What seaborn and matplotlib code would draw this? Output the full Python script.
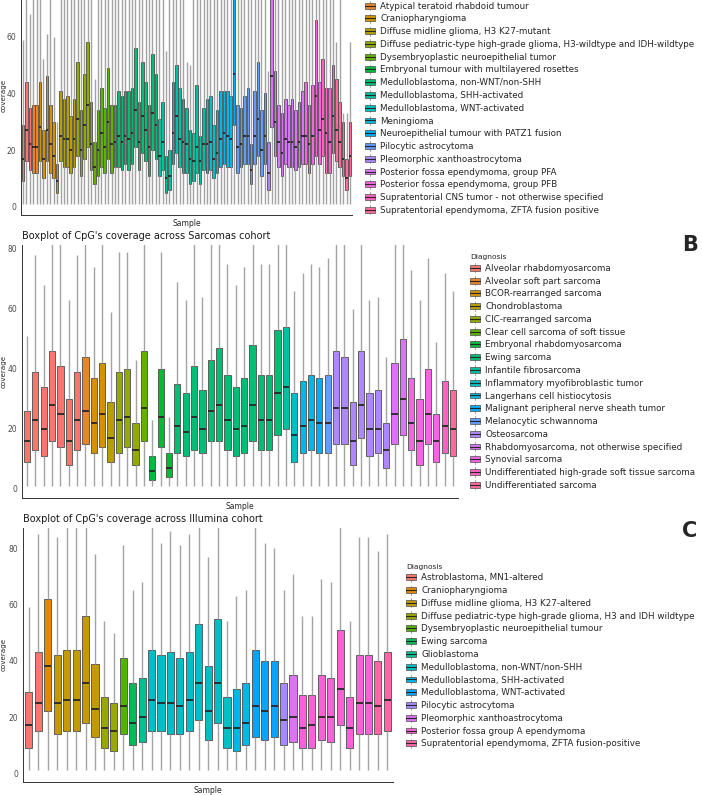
import numpy as np
import pandas as pd
import matplotlib
matplotlib.use("Agg")
import matplotlib.pyplot as plt
import matplotlib.transforms as mtransforms
import seaborn as sns
from matplotlib.patches import Rectangle
from matplotlib.lines import Line2D
from matplotlib.legend_handler import HandlerPatch

# ---------------- panel A (top, cropped) : CNS cohort ----------------
A_DIAG = [
    "Astroblastoma, MN1-altered",
    "Atypical teratoid rhabdoid tumour",
    "Craniopharyngioma",
    "Diffuse midline glioma, H3 K27-mutant",
    "Diffuse pediatric-type high-grade glioma, H3-wildtype and IDH-wildtype",
    "Dysembryoplastic neuroepithelial tumor",
    "Embryonal tumour with multilayered rosettes",
    "Medulloblastoma, non-WNT/non-SHH",
    "Medulloblastoma, SHH-activated",
    "Medulloblastoma, WNT-activated",
    "Meningioma",
    "Neuroepithelial tumour with PATZ1 fusion",
    "Pilocytic astrocytoma",
    "Pleomorphic xanthoastrocytoma",
    "Posterior fossa ependymoma, group PFA",
    "Posterior fossa ependymoma, group PFB",
    "Supratentorial CNS tumor - not otherwise specified",
    "Supratentorial ependymoma, ZFTA fusion positive",
]
A_COUNTS = [3, 2, 6, 5, 5, 6, 1, 12, 14, 4, 4, 1, 9, 1, 10, 5, 4, 5]
A_Q1 = [9, 16, 13, 12, 12, 16, 10, 16, 12, 10, 5, 16, 14, 14, 12, 14, 18, 11, 17, 21,
        13, 8, 11, 14, 12, 17, 12, 14, 14, 13, 15, 13, 15, 21, 13, 19, 16, 11, 20, 17,
        11, 13, 5, 6, 15, 19, 14, 12, 12, 8, 9, 12, 8, 13, 12, 13, 10, 12, 14, 15,
        14, 14, 29, 12, 14, 15, 15, 8, 15, 18, 11, 15, 6, 28, 18, 14, 11, 15, 14, 14,
        13, 14, 15, 15, 12, 15, 18, 15, 18, 12, 12, 19, 16, 14, 11, 6, 11]
A_MED = [17, 27, 22, 21, 21, 28, 17, 27, 22, 18, 9, 25, 24, 24, 20, 24, 31, 20, 29, 36,
         22, 14, 20, 26, 21, 30, 22, 23, 25, 23, 25, 24, 26, 34, 23, 32, 27, 21, 33, 29,
         18, 23, 10, 11, 26, 32, 24, 23, 22, 17, 16, 21, 16, 22, 22, 23, 17, 19, 24, 26,
         25, 24, 47, 21, 22, 25, 25, 13, 25, 31, 20, 25, 12, 46, 30, 23, 19, 24, 23, 23,
         21, 23, 25, 25, 22, 25, 39, 27, 31, 26, 23, 32, 27, 23, 17, 10, 18]
A_Q3 = [29, 44, 35, 36, 36, 44, 27, 46, 36, 30, 15, 41, 38, 39, 32, 38, 51, 34, 47, 58,
        37, 23, 34, 42, 35, 49, 36, 36, 41, 39, 41, 41, 42, 56, 37, 51, 44, 36, 54, 47,
        31, 37, 18, 20, 44, 50, 42, 38, 35, 27, 26, 43, 25, 35, 38, 39, 29, 34, 41, 41,
        41, 39, 80, 36, 35, 39, 42, 22, 41, 51, 34, 40, 23, 80, 48, 36, 33, 38, 36, 38,
        34, 37, 41, 44, 36, 43, 66, 44, 52, 42, 42, 50, 45, 37, 30, 17, 30]
A_HI = [59, 90, 68, 90, 90, 90, 52, 61, 90, 60, 30, 90, 90, 90, 90, 90, 90, 90, 90, 90,
        90, 45, 90, 90, 90, 90, 90, 90, 90, 90, 90, 90, 90, 90, 90, 90, 90, 90, 90, 90,
        90, 90, 55, 90, 90, 90, 90, 90, 51, 50, 90, 90, 90, 90, 90, 90, 90, 90, 90, 90,
        90, 90, 90, 90, 90, 90, 90, 90, 90, 90, 90, 90, 48, 90, 90, 90, 90, 90, 90, 90,
        90, 90, 90, 90, 90, 90, 90, 90, 90, 90, 90, 90, 58, 90, 33, 33, 58]
A_MIN = 1

# ---------------- panel B : Sarcomas cohort ----------------
B_DIAG = [
    "Alveolar rhabdomyosarcoma",
    "Alveolar soft part sarcoma",
    "BCOR-rearranged sarcoma",
    "Chondroblastoma",
    "CIC-rearranged sarcoma",
    "Clear cell sarcoma of soft tissue",
    "Embryonal rhabdomyosarcoma",
    "Ewing sarcoma",
    "Infantile fibrosarcoma",
    "Inflammatory myofibroblastic tumor",
    "Langerhans cell histiocytosis",
    "Malignant peripheral nerve sheath tumor",
    "Melanocytic schwannoma",
    "Osteosarcoma",
    "Rhabdomyosarcoma, not otherwise specified",
    "Synovial sarcoma",
    "Undifferentiated high-grade soft tissue sarcoma",
    "Undifferentiated sarcoma",
]
B_COUNTS = [7, 1, 2, 1, 3, 1, 3, 13, 1, 1, 2, 1, 1, 7, 2, 4, 1, 1]
B_Q1 = [9, 13, 11, 16, 14, 8, 13, 15, 12, 14, 9, 12, 14, 8, 16, 3, 14, 4, 12, 11,
        13, 12, 16, 16, 13, 11, 12, 16, 13, 13, 18, 20, 9, 12, 13, 12, 12, 15, 15, 8,
        17, 11, 12, 7, 15, 18, 13, 8, 15, 9, 12, 11]
B_MED = [16, 23, 20, 28, 25, 16, 23, 26, 22, 25, 17, 23, 24, 13, 27, 6, 24, 7, 21, 19,
         24, 20, 26, 28, 23, 20, 21, 28, 23, 23, 32, 34, 18, 21, 23, 22, 22, 27, 27, 16,
         28, 20, 20, 13, 25, 30, 22, 16, 25, 16, 21, 20]
B_Q3 = [26, 39, 34, 46, 41, 30, 39, 44, 37, 42, 29, 39, 40, 22, 46, 11, 40, 12, 35, 32,
        41, 33, 43, 47, 38, 34, 37, 48, 38, 38, 53, 54, 32, 36, 38, 37, 38, 46, 44, 29,
        46, 32, 33, 22, 42, 50, 37, 30, 40, 25, 36, 33]
B_HI = [51, 78, 68, 90, 90, 63, 78, 90, 74, 90, 59, 79, 79, 43, 90, 23, 79, 24, 69, 63,
        90, 64, 90, 90, 75, 68, 74, 90, 75, 75, 90, 90, 66, 72, 75, 74, 77, 90, 90, 60,
        90, 63, 64, 44, 90, 90, 73, 63, 77, 49, 72, 66]
B_MIN = 1

# ---------------- panel C : Illumina cohort ----------------
C_DIAG = [
    "Astroblastoma, MN1-altered",
    "Craniopharyngioma",
    "Diffuse midline glioma, H3 K27-altered",
    "Diffuse pediatric-type high-grade glioma, H3 and IDH wildtype",
    "Dysembryoplastic neuroepithelial tumour",
    "Ewing sarcoma",
    "Glioblastoma",
    "Medulloblastoma, non-WNT/non-SHH",
    "Medulloblastoma, SHH-activated",
    "Medulloblastoma, WNT-activated",
    "Pilocytic astrocytoma",
    "Pleomorphic xanthoastrocytoma",
    "Posterior fossa group A ependymoma",
    "Supratentorial ependymoma, ZFTA fusion-positive",
]
C_COUNTS = [2, 1, 5, 2, 1, 1, 1, 9, 2, 3, 1, 1, 8, 2]
C_Q1 = [9, 15, 22, 14, 15, 15, 18, 13, 9, 8, 14, 10, 11, 15, 15, 14, 14, 15, 19, 12,
        18, 9, 8, 10, 13, 12, 13, 10, 11, 9, 9, 12, 11, 17, 9, 14, 14, 14, 15]
C_MED = [17, 25, 38, 25, 26, 26, 32, 23, 16, 15, 24, 18, 20, 26, 25, 25, 24, 26, 32, 22,
         32, 16, 16, 18, 24, 22, 24, 19, 20, 16, 17, 20, 20, 30, 16, 25, 25, 24, 26]
C_Q3 = [29, 43, 62, 42, 44, 44, 56, 39, 27, 25, 41, 32, 34, 44, 42, 43, 41, 43, 53, 38,
        55, 27, 30, 32, 44, 40, 40, 32, 35, 28, 28, 35, 34, 51, 27, 42, 42, 40, 43]
C_HI = [59, 85, 95, 84, 95, 95, 95, 78, 54, 50, 81, 65, 68, 95, 82, 86, 81, 85, 95, 77,
        95, 54, 63, 65, 95, 82, 80, 65, 71, 56, 56, 69, 68, 95, 54, 84, 84, 79, 85]
C_MIN = 1

YTICKS = [0, 20, 40, 60, 80]


def gg_hue(n, c=100.0, l=65.0):
    """ggplot2 default hue palette (hcl, h from 15 to 375)."""
    hues = np.linspace(15, 375, n + 1)[:-1]
    out = []
    xn, yn, zn = 95.047, 100.0, 108.883
    un = 4 * xn / (xn + 15 * yn + 3 * zn)
    vn = 9 * yn / (xn + 15 * yn + 3 * zn)
    Y = yn * ((l + 16) / 116) ** 3
    for h in hues:
        u = c * np.cos(np.deg2rad(h))
        v = c * np.sin(np.deg2rad(h))
        up = u / (13 * l) + un
        vp = v / (13 * l) + vn
        X = 9 * Y * up / (4 * vp)
        Z = (9 * Y / vp - X - 15 * Y) / 3
        rgb = np.array([
            3.240479 * X - 1.537150 * Y - 0.498535 * Z,
            -0.969256 * X + 1.875992 * Y + 0.041556 * Z,
            0.055648 * X - 0.204043 * Y + 1.057311 * Z,
        ]) / 100
        rgb = np.where(rgb <= 0.0031308, 12.92 * rgb, 1.055 * np.abs(rgb) ** (1 / 2.4) - 0.055)
        out.append(tuple(np.clip(rgb, 0, 1)))
    return out


def long_table(diag, counts, q1, med, q3, hi, lo):
    # five values per sample -> quartiles and min/max land exactly on them
    rows = []
    i = 0
    for name, k in zip(diag, counts):
        for _ in range(k):
            for v in (lo, q1[i], med[i], q3[i], hi[i]):
                rows.append((f"S{i:03d}", name, v))
            i += 1
    return pd.DataFrame(rows, columns=["Sample", "Diagnosis", "coverage"])


class BoxKey(HandlerPatch):
    def create_artists(self, legend, orig_handle, xdescent, ydescent,
                       width, height, fontsize, trans):
        x0, y0 = -xdescent, -ydescent
        whisk = Line2D([x0 + width / 2] * 2, [y0 - 1.2, y0 + height + 1.2],
                       color="#8c8c8c", lw=0.6, transform=trans)
        rect = Rectangle((x0, y0), width, height,
                         facecolor=orig_handle.get_facecolor(),
                         edgecolor="#4d4d4d", lw=0.5, transform=trans)
        mid = Line2D([x0, x0 + width], [y0 + height / 2] * 2,
                     color="#262626", lw=0.8, transform=trans)
        return [whisk, rect, mid]


sns.set_theme(style="white")
plt.rcParams["font.family"] = ["DejaVu Sans"]

W, H = 702, 795
fig = plt.figure(figsize=(W / 100, H / 100), dpi=100, facecolor="white")


def px_axes(left, top, right, bottom):
    return fig.add_axes([left / W, 1 - bottom / H, (right - left) / W, (bottom - top) / H])


def draw_panel(ax, df, diag, n, ylim, legend_x, legend_yc, label_y=0.5, title=None):
    pal = dict(zip(diag, gg_hue(len(diag))))
    sns.boxplot(data=df, x="Sample", y="coverage", hue="Diagnosis",
                hue_order=diag, palette=pal, dodge=False, width=0.75,
                saturation=1, whis=(0, 100), showfliers=False, showcaps=False,
                linewidth=0.6, linecolor="#4d4d4d",
                whiskerprops=dict(color="#a3a3a3", linewidth=1.0),
                medianprops=dict(color="#262626", linewidth=1.3),
                ax=ax)
    ax.set_xlim(-0.6, n - 0.4)
    ax.set_ylim(*ylim)
    ax.set_yticks(YTICKS)
    ax.set_xticklabels([])
    ax.tick_params(axis="x", length=2, width=0.5, color="#333333", pad=0)
    ax.tick_params(axis="y", length=2, width=0.5, color="#333333", pad=1.5,
                   labelsize=5.5, labelcolor="#4d4d4d")
    for s in ("top", "right"):
        ax.spines[s].set_visible(False)
    for s in ("left", "bottom"):
        ax.spines[s].set_color("#333333")
        ax.spines[s].set_linewidth(0.7)
    ax.set_xlabel("Sample", fontsize=5.5, labelpad=1)
    ax.set_ylabel("coverage", fontsize=5.1)
    ax.yaxis.set_label_coords(
        7.0 / W, label_y,
        transform=mtransforms.blended_transform_factory(fig.transFigure, ax.transAxes))
    if title:
        ax.set_title(title, loc="left", fontsize=7.0, pad=4.5, color="#1a1a1a")
    sns.move_legend(ax, "center left",
                    bbox_to_anchor=(legend_x / W, 1 - legend_yc / H),
                    bbox_transform=fig.transFigure, frameon=False,
                    title="Diagnosis", fontsize=6.3, title_fontsize=5.4,
                    handlelength=1.15, handleheight=0.65, handletextpad=0.6,
                    labelspacing=0.43, borderpad=0, borderaxespad=0,
                    handler_map={Rectangle: BoxKey()})
    ax.get_legend()._legend_box.align = "left"


dfA = long_table(A_DIAG, A_COUNTS, A_Q1, A_MED, A_Q3, A_HI, A_MIN)
dfB = long_table(B_DIAG, B_COUNTS, B_Q1, B_MED, B_Q3, B_HI, B_MIN)
dfC = long_table(C_DIAG, C_COUNTS, C_Q1, C_MED, C_Q3, C_HI, C_MIN)

axA = px_axes(21, -25, 352, 215)
axB = px_axes(22, 245, 458, 497.7)
axC = px_axes(23.3, 528, 393, 781.7)

draw_panel(axA, dfA, A_DIAG, sum(A_COUNTS), (-2.9, 81.8), 365, 97)
draw_panel(axB, dfB, B_DIAG, sum(B_COUNTS), (-2.9, 81.3), 470, 372,
           title="Boxplot of CpG's coverage across Sarcomas cohort")
draw_panel(axC, dfC, C_DIAG, sum(C_COUNTS), (-3.0, 87.2), 406, 656,
           title="Boxplot of CpG's coverage across Illumina cohort")

fig.text(690 / W, 1 - 245 / H, "B", fontsize=15, fontweight="bold", ha="center", va="center")
fig.text(690 / W, 1 - 531 / H, "C", fontsize=15, fontweight="bold", ha="center", va="center")

fig.savefig("out.png", dpi=100, facecolor="white")
